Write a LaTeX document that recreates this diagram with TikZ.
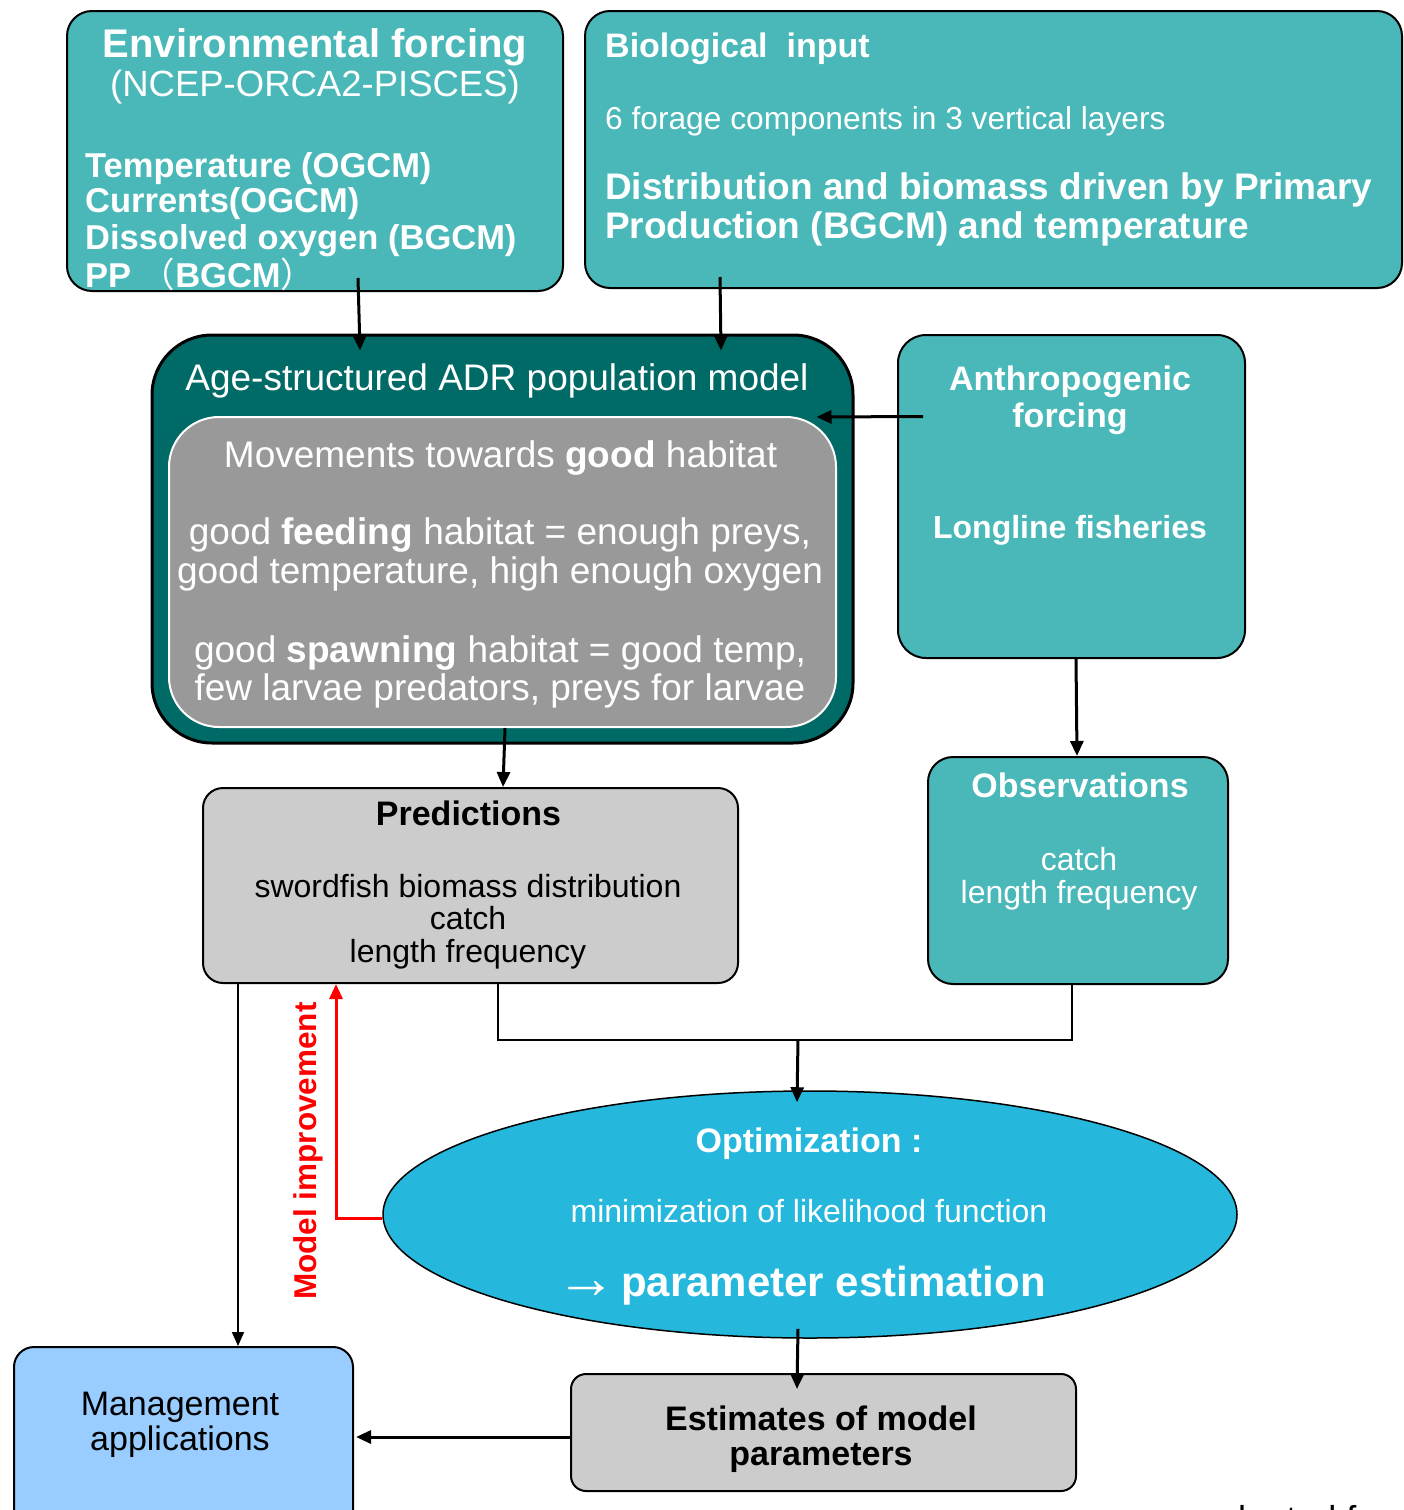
\documentclass[tikz,border=0pt]{standalone}
\usepackage{fontspec}
\setmainfont{Liberation Sans}
\newfontfamily\cjkf{Noto Sans CJK SC}
\usetikzlibrary{arrows.meta,shapes.geometric,calc}
\definecolor{tealA}{HTML}{4AB8B8}
\definecolor{tealD}{HTML}{006A66}
\definecolor{grayIn}{HTML}{999999}
\definecolor{grayBox}{HTML}{CCCCCC}
\definecolor{ellBlue}{HTML}{25B7DC}
\definecolor{mgBlue}{HTML}{99CCFF}
\newcommand\fsz[1]{\fontsize{#1}{#1}\selectfont}
\begin{document}
\begin{tikzpicture}[x=1pt,y=-1pt,
  tealbox/.style={draw=black, line width=2pt, fill=tealA, rounded corners=25pt, inner sep=0pt},
  graybox/.style={draw=black, line width=2pt, fill=grayBox, rounded corners=20pt, inner sep=0pt},
  wt/.style={text=white, inner sep=0pt},
  bt/.style={text=black, inner sep=0pt},
  arr/.style={draw=black, line width=3pt, -{Triangle[length=15pt,width=13pt]}},
  thinarr/.style={draw=black, line width=1.8pt, -{Triangle[length=14pt,width=12pt]}},
  thinline/.style={draw=black, line width=1.8pt},
  redarr/.style={draw=red, line width=3pt, -{Triangle[length=15pt,width=13pt]}}]
\fill[white] (0,0) rectangle (1403,1510);
\useasboundingbox (0,0) rectangle (1403,1510);

% ---------- boxes ----------
\node[tealbox, minimum width=496pt, minimum height=280pt] (env) at (315,151) {};
\node[tealbox, minimum width=817pt, minimum height=277pt] (bio) at (993.5,149.5) {};
\node[draw=black, line width=3pt, fill=tealD, rounded corners=60pt, inner sep=0pt,
      minimum width=701pt, minimum height=408pt] (adr) at (502.5,539) {};
\node[draw=white, line width=2pt, fill=grayIn, rounded corners=50pt, inner sep=0pt,
      minimum width=667pt, minimum height=310pt] (inner) at (502.5,572) {};
\node[tealbox, rounded corners=28pt, minimum width=347pt, minimum height=323pt] (anth) at (1071.5,496.5) {};
\node[graybox, minimum width=535pt, minimum height=195pt] (pred) at (470.5,885.5) {};
\node[tealbox, minimum width=300pt, minimum height=227pt] (obs) at (1078,870.5) {};
\node[ellipse, draw=black, line width=1.5pt, fill=ellBlue, inner sep=0pt,
      minimum width=854pt, minimum height=247pt] (ell) at (810,1214.5) {};
\node[draw=black, line width=2pt, fill=mgBlue, rounded corners=20pt, inner sep=0pt,
      minimum width=339pt, minimum height=183pt] (mgmt) at (183.5,1438.5) {};
\node[graybox, rounded corners=15pt, minimum width=505pt, minimum height=117pt] (est) at (823.5,1432.5) {};

% ---------- texts: environmental forcing ----------
\node[wt, anchor=base] (envT) at (315,57) {\fsz{40}\bfseries Environmental forcing};
\node[wt, anchor=base] (envS) at (315,96) {\fsz{36.5}(NCEP-ORCA2-PISCES)};
\node[wt, anchor=base west] (envA) at (85,177) {\fsz{34.5}\bfseries Temperature (OGCM)};
\node[wt, anchor=base west] (envB) at (85,212) {\fsz{34.5}\bfseries Currents(OGCM)};
\node[wt, anchor=base west] (envC) at (85,249) {\fsz{34.5}\bfseries Dissolved oxygen (BGCM)};
\node[wt, anchor=base west] (envD) at (85,287) {\fsz{34.5}{\bfseries PP} {\cjkf （}{\bfseries BGCM}{\cjkf ）}};

% ---------- texts: biological input ----------
\node[wt, anchor=base west] (bioT) at (605,57) {\fsz{34}\bfseries Biological\ \ input};
\node[wt, anchor=base west] (bioS) at (605,129) {\fsz{31.7}6 forage components in 3 vertical layers};
\node[wt, anchor=base west] (bioA) at (605,199) {\fsz{37}\bfseries Distribution and biomass driven by Primary};
\node[wt, anchor=base west] (bioB) at (605,238) {\fsz{37}\bfseries Production (BGCM) and temperature};

% ---------- texts: ADR model ----------
\node[wt, anchor=base] (adrT) at (497,390) {\fsz{37}Age-structured ADR population model};
\node[wt, anchor=base] (inA) at (500.5,467) {\fsz{37}Movements towards \textbf{good} habitat};
\node[wt, anchor=base] (inB) at (500,544) {\fsz{37}good \textbf{feeding} habitat = enough preys,};
\node[wt, anchor=base] (inC) at (500,583) {\fsz{37}good temperature, high enough oxygen};
\node[wt, anchor=base] (inD) at (500,662) {\fsz{37}good \textbf{spawning} habitat = good temp,};
\node[wt, anchor=base] (inE) at (500,700) {\fsz{37}few larvae predators, preys for larvae};

% ---------- texts: anthropogenic ----------
\node[wt, anchor=base] (anA) at (1070,390) {\fsz{34}\bfseries Anthropogenic};
\node[wt, anchor=base] (anB) at (1070,427) {\fsz{34}\bfseries forcing};
\node[wt, anchor=base] (anC) at (1070,538) {\fsz{32}\bfseries Longline fisheries};

% ---------- texts: predictions ----------
\node[bt, anchor=base] (prT) at (468.5,825) {\fsz{34}\bfseries Predictions};
\node[bt, anchor=base] (prA) at (468,897) {\fsz{32}swordfish biomass distribution};
\node[bt, anchor=base] (prB) at (468,929) {\fsz{32}catch};
\node[bt, anchor=base] (prC) at (468,962) {\fsz{32}length frequency};

% ---------- texts: observations ----------
\node[wt, anchor=base] (obT) at (1080,797) {\fsz{34}\bfseries Observations};
\node[wt, anchor=base] (obA) at (1079,870) {\fsz{32}catch};
\node[wt, anchor=base] (obB) at (1079,903) {\fsz{32}length frequency};

% ---------- texts: optimization ----------
\node[wt, anchor=base] (opT) at (809,1152) {\fsz{34}\bfseries Optimization :};
\node[wt, anchor=base] (opA) at (809,1222) {\fsz{32}minimization of likelihood function};
\node[wt, anchor=base west] (opB) at (556,1296) {{\fsz{60}\raisebox{-2pt}{→}}\hspace{5pt}{\fsz{42}\bfseries parameter estimation}};

% ---------- texts: bottom ----------
\node[bt, anchor=base] (mgA) at (180,1415) {\fsz{34}Management};
\node[bt, anchor=base] (mgB) at (180,1450) {\fsz{34}applications};
\node[bt, anchor=base] (esA) at (821,1430) {\fsz{34}\bfseries Estimates of model};
\node[bt, anchor=base] (esB) at (821,1465) {\fsz{34}\bfseries parameters};
\node[text=red, inner sep=0pt, anchor=base, rotate=90] (mi) at (316,1151) {\fsz{31.5}\bfseries Model improvement};
\node[bt, anchor=base west] (src) at (1206,1531) {\fsz{36}adapted from};

% ---------- connectors ----------
\draw[arr] ($(env.south)+(43,-14)$) -- ($(adr.north)+(-142.5,17)$);
\draw[arr] ($(bio.south)+(-273.5,-12)$) -- ($(adr.north)+(218.5,17)$);
\draw[arr] ($(anth.west)+(26,-80)$) -- ($(adr.east)+(-38,-122)$);
\draw[arr] ($(inner.south)+(2.5,0)$) -- ($(pred.north)+(32.5,0)$);
\draw[arr] ($(anth.south)+(4.5,0)$) -- ($(obs.north)+(-1,0)$);
\coordinate (junc) at (798,1040);
\draw[thinline] ($(pred.south)+(27.5,0)$) |- (junc) -| ($(obs.south)+(-6,0)$);
\draw[arr] (junc) -- ($(ell.north)+(-13,12)$);
\draw[arr] ($(ell.south)+(-12,-10)$) -- ($(est.north)+(-26.5,16)$);
\draw[arr] ($(est.west)+(0,4.5)$) -- ($(mgmt.east)+(2,-1.5)$);
\draw[thinarr] ($(pred.south)+(-232.5,0)$) -- ($(mgmt.north)+(54.5,0)$);
\draw[redarr] ($(ell.west)+(0,3.5)$) -| ($(pred.south)+(-134.5,0)$);
\end{tikzpicture}
\end{document}
